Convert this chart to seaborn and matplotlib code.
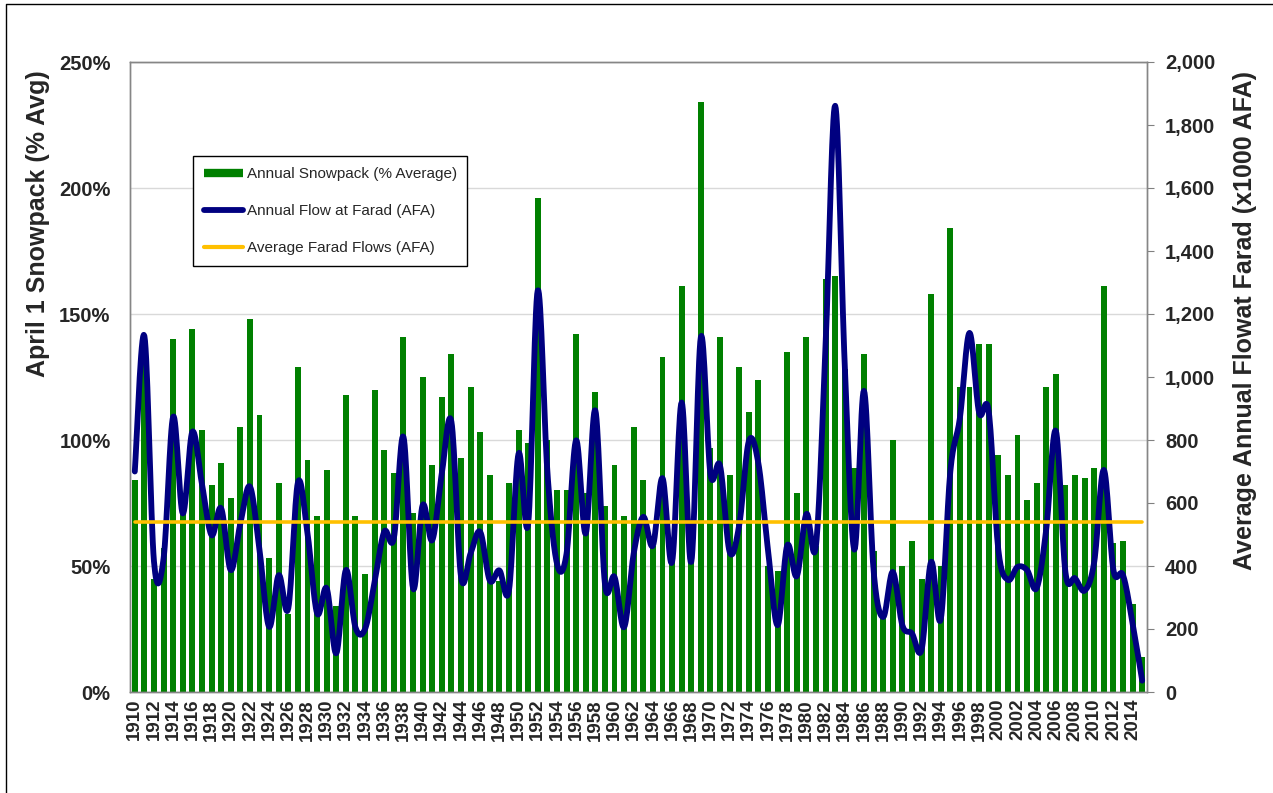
import numpy as np
import pandas as pd
import seaborn as sns
import matplotlib.pyplot as plt
from matplotlib.lines import Line2D
from matplotlib.ticker import FixedLocator, FuncFormatter

# data (1910 - 2015)
years = list(range(1910, 2016))

snowpack = [84, 138, 45, 57, 140, 72, 144, 104, 82, 91,
            77, 105, 148, 110, 53, 83, 31, 129, 92, 70,
            88, 34, 118, 70, 47, 120, 96, 87, 141, 71,
            125, 90, 117, 134, 93, 121, 103, 86, 44, 83,
            104, 99, 196, 100, 80, 80, 142, 79, 119, 74,
            90, 70, 105, 84, 58, 133, 52, 161, 52, 234,
            97, 141, 86, 129, 111, 124, 50, 48, 135, 79,
            141, 58, 164, 165, 128, 89, 134, 56, 30, 100,
            50, 60, 45, 158, 50, 184, 121, 121, 138, 138,
            94, 86, 102, 76, 83, 121, 126, 82, 86, 85,
            89, 161, 59, 60, 35, 14]

flow = [700, 1130, 414, 424, 874, 567, 826, 660, 498, 583,
        387, 535, 652, 450, 207, 371, 266, 665, 504, 250,
        329, 123, 387, 205, 200, 350, 509, 488, 810, 329,
        593, 482, 694, 858, 366, 440, 508, 354, 386, 323,
        757, 534, 1275, 700, 408, 439, 799, 503, 894, 344,
        365, 206, 440, 556, 465, 679, 413, 919, 413, 1127,
        692, 718, 445, 530, 796, 725, 450, 212, 465, 368,
        565, 465, 1100, 1861, 1036, 452, 956, 387, 238, 381,
        212, 186, 134, 413, 231, 700, 870, 1140, 887, 891,
        452, 356, 397, 387, 330, 517, 829, 380, 361, 322,
        413, 705, 387, 371, 218, 36]

avg_flow = 540

df = pd.DataFrame({"year": [str(y) for y in years], "snow": snowpack, "flow": flow})


def smooth_curve(xv, yv, steps=16):
    # Catmull-Rom spline, like the smoothed line option in a spreadsheet
    pts = np.column_stack([xv, yv]).astype(float)
    p = np.vstack([pts[0], pts, pts[-1]])
    t = np.linspace(0, 1, steps, endpoint=False)[:, None]
    out = []
    for i in range(1, len(p) - 2):
        p0, p1, p2, p3 = p[i - 1], p[i], p[i + 1], p[i + 2]
        seg = 0.5 * (2 * p1 + (-p0 + p2) * t
                     + (2 * p0 - 5 * p1 + 4 * p2 - p3) * t ** 2
                     + (-p0 + 3 * p1 - 3 * p2 + p3) * t ** 3)
        out.append(seg)
    out.append(pts[-1:])
    out = np.vstack(out)
    return out[:, 0], out[:, 1]


sns.set_style("white")
plt.rcParams["font.family"] = ["Liberation Sans", "DejaVu Sans"]

fig = plt.figure(figsize=(12.73, 7.93), dpi=100)
ax = fig.add_axes([130 / 1273, 101 / 793, 1017 / 1273, 630 / 793])

sns.barplot(data=df, x="year", y="snow", color="#008000", saturation=1,
            width=0.62, edgecolor="none", ax=ax, zorder=2)

n = len(years)
ax.set_xlim(-0.5, n - 0.5)
ax.set_ylim(0, 250)
ax.set_yticks(np.arange(0, 251, 50))
ax.yaxis.set_major_formatter(FuncFormatter(lambda v, p: f"{v:.0f}%"))
ax.grid(axis="y", color="#d9d9d9", lw=1)
ax.set_axisbelow(True)
ax.set_xlabel("")
ax.set_ylabel("")

ax.xaxis.set_major_locator(FixedLocator(np.arange(0, n, 2)))
ax.set_xticklabels([str(y) for y in years[::2]], rotation=90)
ax.xaxis.set_minor_locator(FixedLocator(np.arange(-0.5, n, 2)))
ax.tick_params(axis="x", which="major", length=0, pad=5, labelsize=13.5)
ax.tick_params(axis="x", which="minor", length=5, color="#808080", width=1)
ax.tick_params(axis="y", length=0, pad=14, labelsize=14.5)
for lab in ax.get_xticklabels() + ax.get_yticklabels():
    lab.set_fontweight("bold")

ax2 = ax.twinx()
xs, ys = smooth_curve(np.arange(n), flow)
ax2.plot(xs, ys, color="#000080", lw=4.2, solid_capstyle="round", zorder=3)
ax2.plot([0, n - 1], [avg_flow, avg_flow], color="#FFC000", lw=2.6, zorder=4)
ax2.set_ylim(0, 2000)
ax2.set_yticks(np.arange(0, 2001, 200))
ax2.yaxis.set_major_formatter(FuncFormatter(lambda v, p: f"{v:,.0f}"))
ax2.tick_params(axis="y", length=5, color="#808080", pad=8, labelsize=14.5)
for lab in ax2.get_yticklabels():
    lab.set_fontweight("bold")
ax2.set_xlim(-0.5, n - 0.5)

for a in (ax, ax2):
    for s in a.spines.values():
        s.set_color("#868686")
        s.set_linewidth(1)

handles = [
    Line2D([], [], color="#008000", lw=6, solid_capstyle="butt"),
    Line2D([], [], color="#000080", lw=4.2, solid_capstyle="round"),
    Line2D([], [], color="#FFC000", lw=3),
]
labels = ["Annual Snowpack (% Average)", "Annual Flow at Farad (AFA)",
          "Average Farad Flows (AFA)"]
leg = ax2.legend(handles, labels, loc="upper left", bbox_to_anchor=(0.062, 0.85),
                 borderaxespad=0, fontsize=11, frameon=True, fancybox=False,
                 edgecolor="black", framealpha=1, handlelength=2.6,
                 handletextpad=0.2, labelspacing=1.5, borderpad=0.7)
leg.get_frame().set_linewidth(1)
for t in leg.get_texts():
    t.set_color("#262626")

fig.text(38 / 1273, 1 - 224 / 793, "April 1 Snowpack (% Avg)", rotation=90,
         ha="center", va="center", fontsize=18, fontweight="bold")
fig.text(1245 / 1273, 1 - 320 / 793, "Average Annual Flowat Farad (x1000 AFA)",
         rotation=90, ha="center", va="center", fontsize=18, fontweight="bold")

# outer frame (left and top edge)
fig.add_artist(Line2D([6 / 1273, 6 / 1273, 1], [0, 1 - 4 / 793, 1 - 4 / 793],
                      transform=fig.transFigure, color="black", lw=1))

fig.savefig("out.png", dpi=100)
